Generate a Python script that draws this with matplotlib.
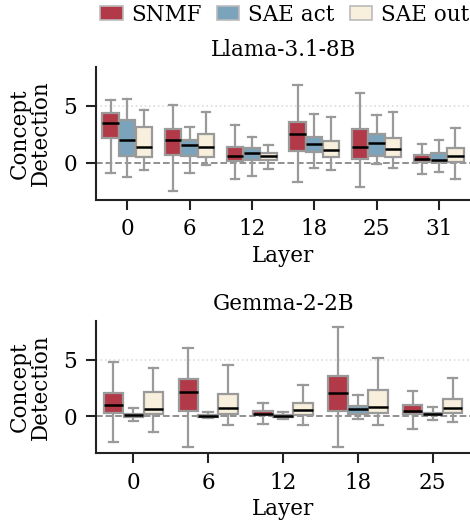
import numpy as np
import matplotlib
matplotlib.use("Agg")
import matplotlib.pyplot as plt
from matplotlib.patches import Patch

# ---------------------------------------------------------
# box stats: (whislo, q1, med, q3, whishi)
# ---------------------------------------------------------
methods = ["SNMF", "SAE act", "SAE out"]
colors = ["#b23a48", "#7ba3bc", "#f8efdc"]

llama_layers = ["0", "6", "12", "18", "25", "31"]
llama_snmf = [(-0.9, 2.16, 3.45, 4.33, 5.5), (-2.54, 0.67, 1.96, 2.95, 5.09),
              (-1.43, 0.18, 0.61, 1.35, 3.27), (-1.75, 1.02, 2.49, 3.6, 6.81),
              (-2.19, 0.35, 1.4, 2.95, 6.11), (-0.99, 0.09, 0.35, 0.64, 1.67)]
llama_act = [(-1.29, 0.58, 1.99, 3.74, 5.58), (-0.94, 0.58, 1.55, 1.99, 3.1),
             (-1.17, 0.23, 0.82, 1.29, 2.28), (-0.44, 0.91, 1.64, 2.28, 4.24),
             (-0.15, 0.58, 1.75, 2.49, 4.21), (-0.82, 0.06, 0.26, 0.82, 1.99)]
llama_out = [(-0.67, 0.47, 1.35, 3.1, 4.62), (-0.23, 0.47, 1.37, 2.51, 4.42),
             (-0.58, 0.23, 0.56, 0.88, 1.55), (-0.67, 0.47, 1.08, 1.93, 4.04),
             (-0.44, 0.47, 1.2, 2.19, 4.5), (-1.43, 0.09, 0.58, 1.32, 3.04)]

gemma_layers = ["0", "6", "12", "18", "25"]
gemma_snmf = [(-2.26, 0.24, 0.94, 2.06, 4.79), (-2.74, 0.47, 2.15, 3.26, 6.06),
              (-0.68, 0.06, 0.18, 0.47, 1.15), (-2.74, 0.47, 2.06, 3.56, 7.88),
              (-1.15, 0.18, 0.47, 0.94, 2.21)]
gemma_act = [(-0.41, -0.06, 0.09, 0.18, 0.68), (-0.18, -0.09, 0.03, 0.09, 0.35),
             (-0.26, -0.06, 0.0, 0.06, 0.32), (-0.29, 0.18, 0.59, 0.88, 1.88),
             (-0.38, 0.06, 0.18, 0.29, 0.76)]
gemma_out = [(-1.41, 0.18, 0.59, 2.15, 4.26), (-0.82, 0.18, 0.74, 1.94, 4.53),
             (-0.76, 0.12, 0.53, 1.15, 2.74), (-0.82, 0.24, 0.82, 2.32, 5.15),
             (-0.5, 0.24, 0.74, 1.53, 3.38)]

FS = 15.5
plt.rcParams["font.family"] = "DejaVu Serif"
plt.rcParams["font.size"] = FS

GRAY = "#9a9a9a"


def draw_panel(ax, title, layers, series):
    offsets = [-0.267, 0.0, 0.267]
    x = np.arange(len(layers))
    for k, data in enumerate(series):
        stats = [dict(whislo=s[0], q1=s[1], med=s[2], q3=s[3], whishi=s[4], fliers=[])
                 for s in data]
        bp = ax.bxp(stats, positions=x + offsets[k], widths=0.26, patch_artist=True,
                    showfliers=False,
                    boxprops=dict(facecolor=colors[k], edgecolor=GRAY, linewidth=1.6),
                    whiskerprops=dict(color=GRAY, linewidth=1.6),
                    capprops=dict(color=GRAY, linewidth=1.6),
                    medianprops=dict(color="black", linewidth=1.8),
                    capwidths=0.13)
        for b in bp["boxes"]:
            b.set_zorder(3)
        for m in bp["medians"]:
            m.set_zorder(4)
    ax.axhline(0, color="#888888", ls="--", lw=1.3, zorder=1)
    ax.axhline(5, color="#dddddd", ls=":", lw=1.2, zorder=0)
    ax.set_xticks(x)
    ax.set_xticklabels(layers)
    ax.set_xlim(-0.5, len(layers) - 0.5)
    ax.set_ylim(-3.3, 8.45)
    ax.set_yticks([0, 5])
    ax.set_title(title, fontsize=FS, pad=8)
    ax.set_xlabel("Layer", labelpad=3)
    ax.set_ylabel("Concept\nDetection", labelpad=8, linespacing=0.95)
    for side in ["top", "right"]:
        ax.spines[side].set_visible(False)
    for side in ["left", "bottom"]:
        ax.spines[side].set_linewidth(1.5)
        ax.spines[side].set_color("#222222")
    ax.tick_params(width=1.5, length=7.2, color="#222222", labelsize=FS)
    ax.tick_params(axis="y", pad=6.5)
    ax.tick_params(axis="x", pad=6)


fig = plt.figure(figsize=(4.7, 5.21), dpi=100)
ax1 = fig.add_axes([0.2043, 0.6161, 0.7957, 0.2559])
ax2 = fig.add_axes([0.2043, 0.1299, 0.7957, 0.2546])

draw_panel(ax1, "Llama-3.1-8B", llama_layers, [llama_snmf, llama_act, llama_out])
draw_panel(ax2, "Gemma-2-2B", gemma_layers, [gemma_snmf, gemma_act, gemma_out])

handles = [Patch(facecolor=c, edgecolor="#bbbbbb", linewidth=1.2, label=m)
           for c, m in zip(colors, methods)]
fig.legend(handles=handles, loc="center left", bbox_to_anchor=(0.213, 0.972), ncol=3,
           frameon=False, fontsize=FS, handlelength=1.05, handleheight=0.68,
           columnspacing=0.7, handletextpad=0.4, borderaxespad=0, borderpad=0)

fig.savefig("out.png", dpi=100)
